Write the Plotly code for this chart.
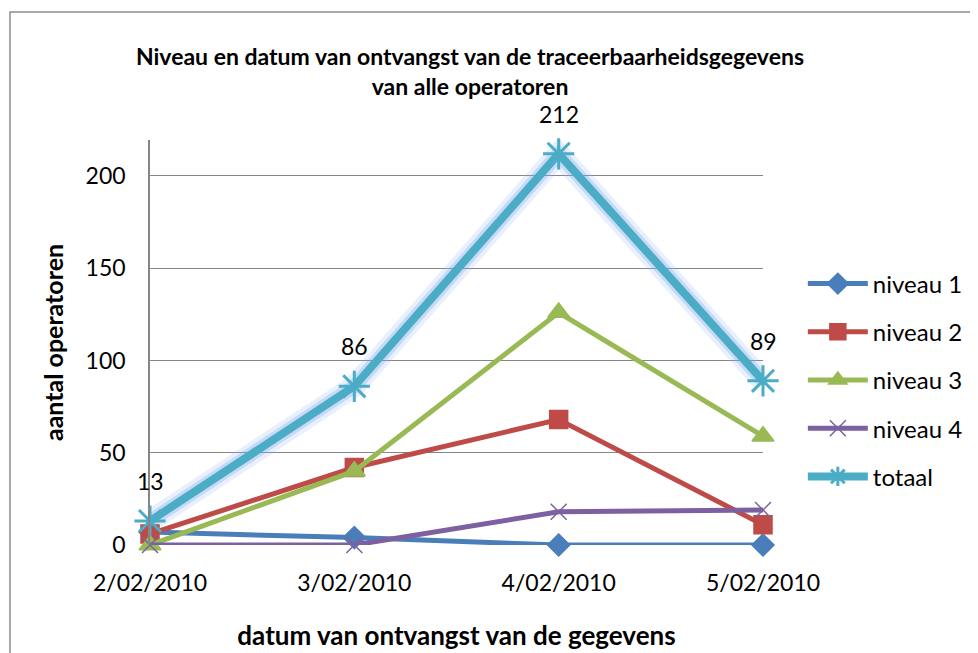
import plotly.graph_objects as go

dates = ["2/02/2010", "3/02/2010", "4/02/2010", "5/02/2010"]
niveau1 = [7, 4, 0, 0]
niveau2 = [6, 42, 68, 11]
niveau3 = [0, 40, 126, 59]
niveau4 = [0, 0, 18, 19]
totaal = [13, 86, 212, 89]

FONT = "Lato"
fig = go.Figure()

# glow behind totaal
fig.add_trace(go.Scatter(x=dates, y=totaal, mode="lines", showlegend=False, hoverinfo="skip",
                         line=dict(color="rgba(140,180,240,0.20)", width=22), cliponaxis=False))
fig.add_trace(go.Scatter(x=dates, y=totaal, mode="lines", showlegend=False, hoverinfo="skip",
                         line=dict(color="rgba(120,165,235,0.30)", width=14), cliponaxis=False))

series = [
    ("niveau 1", niveau1, "#4A7EBB", "diamond", 17, 5),
    ("niveau 2", niveau2, "#BE4B48", "square", 18, 5),
    ("niveau 3", niveau3, "#98B954", "triangle-up", 19, 5),
    ("niveau 4", niveau4, "#7D60A0", "x-thin-open", 16, 5),
]
for name, vals, col, sym, size, w in series:
    fig.add_trace(go.Scatter(
        x=dates, y=vals, name=name, mode="lines+markers", legendgroup=name,
        line=dict(color=col, width=w),
        marker=dict(symbol=sym, size=size, color=col, line=dict(color=col, width=1.5)),
        cliponaxis=False))

fig.add_trace(go.Scatter(
    x=dates, y=totaal, name="totaal", mode="lines+markers", legendgroup="totaal",
    line=dict(color="#4BACC6", width=8),
    marker=dict(symbol="asterisk-open", size=26, color="#4BACC6", line=dict(color="#4BACC6", width=3)),
    cliponaxis=False))

for d, v in zip(dates, totaal):
    fig.add_annotation(x=d, y=v, text=str(v), showarrow=False, yshift=40,
                       font=dict(family=FONT, size=23, color="black"))

fig.add_shape(type="rect", xref="paper", yref="paper", x0=-0.2284, y0=-0.4, x1=1.5, y1=1.316,
              line=dict(color="#8C8C8C", width=1.5), layer="below")

fig.update_layout(
    width=978, height=653,
    margin=dict(l=142, r=223, t=132, b=116),
    paper_bgcolor="white", plot_bgcolor="white",
    font=dict(family=FONT, color="black"),
    title=dict(text="<b>Niveau en datum van ontvangst van de traceerbaarheidsgegevens<br>van alle operatoren</b>",
               x=462 / 978, xanchor="center", y=1 - 57 / 653, yanchor="middle",
               font=dict(family=FONT, size=23, color="black")),
    legend=dict(x=1.065, xanchor="left", y=0.70, yanchor="top", tracegroupgap=14, itemwidth=60,
                font=dict(family=FONT, size=24, color="black"), bgcolor="rgba(0,0,0,0)"),
    showlegend=True,
)
fig.update_xaxes(type="category", range=[0, 3], showgrid=False, showline=False, zeroline=False,
                 ticks="", tickfont=dict(family=FONT, size=23), ticklabelstandoff=22,
                 title=dict(text="<b>datum van ontvangst van de gegevens</b>", standoff=31,
                            font=dict(family=FONT, size=26)))
fig.update_yaxes(range=[0, 219.5], tickvals=[0, 50, 100, 150, 200], showgrid=True, gridcolor="#868686",
                 gridwidth=1.2, showline=True, linecolor="#868686", linewidth=1.5, zeroline=False,
                 ticks="", tickfont=dict(family=FONT, size=23), ticklabelstandoff=18,
                 title=dict(text="<b>aantal operatoren</b>", standoff=15, font=dict(family=FONT, size=25)))

fig.write_html("out.html")
